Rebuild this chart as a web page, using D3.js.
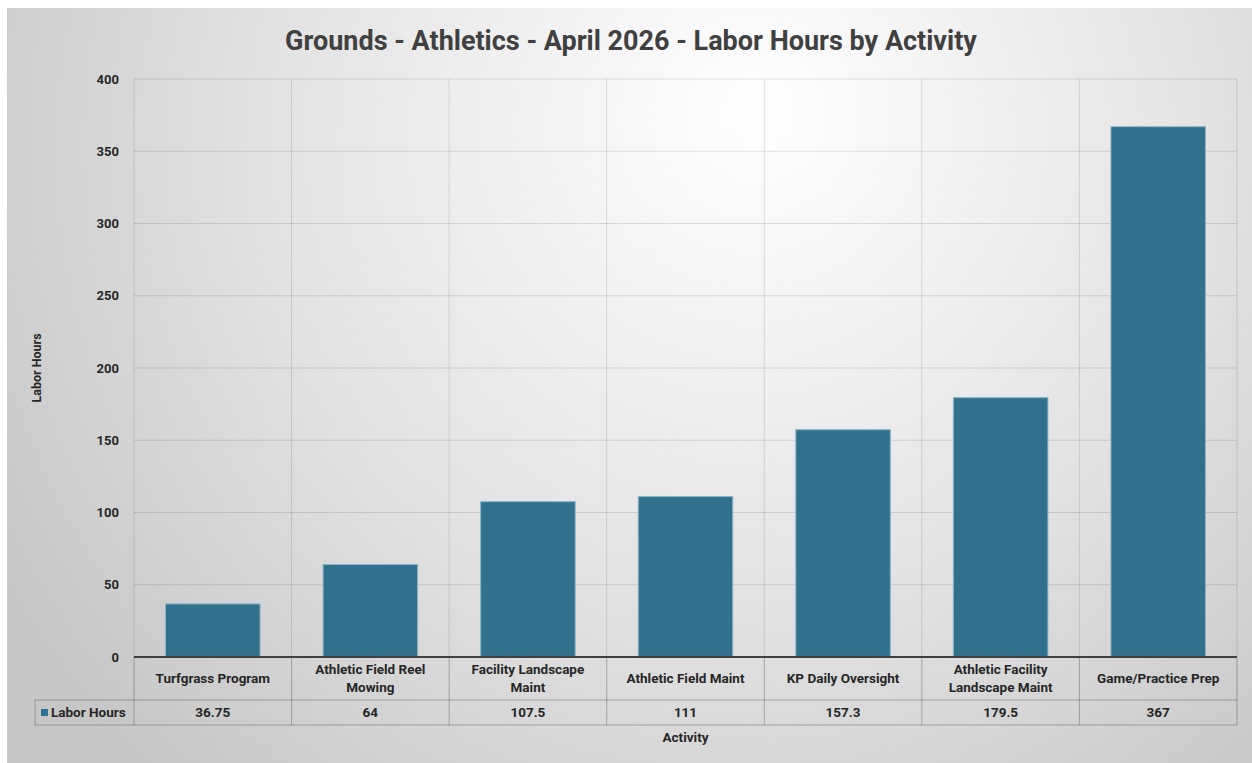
<!DOCTYPE html>
<html>
<head>
<meta charset="utf-8">
<script src="https://cdn.jsdelivr.net/npm/d3@7/dist/d3.min.js"></script>
<style>
  html, body { margin: 0; padding: 0; background: #ffffff; }
  svg { display: block; }
  text { font-family: Roboto, "Noto Sans", sans-serif; }
</style>
</head>
<body>
<svg id="chart" width="1252" height="763"></svg>
<script>
// Labor hours per activity, April 2026
const categories = [
  ["Turfgrass Program"],
  ["Athletic Field Reel", "Mowing"],
  ["Facility Landscape", "Maint"],
  ["Athletic Field Maint"],
  ["KP Daily Oversight"],
  ["Athletic Facility", "Landscape Maint"],
  ["Game/Practice Prep"]
];
const laborHours = [36.75, 64, 107.5, 111, 157.3, 179.5, 367];
const valueLabels = ["36.75", "64", "107.5", "111", "157.3", "179.5", "367"];
const yTicks = [0, 50, 100, 150, 200, 250, 300, 350, 400];

const titleText = "Grounds - Athletics - April 2026 - Labor Hours by Activity";
const seriesName = "Labor Hours";
const xTitle = "Activity";
const yTitle = "Labor Hours";

(function draw() {
  const svg = d3.select("#chart");

  // Chart area background: soft radial sheen
  const defs = svg.append("defs");
  const grad = defs.append("radialGradient")
    .attr("id", "bgGrad")
    .attr("gradientUnits", "userSpaceOnUse")
    .attr("cx", 720).attr("cy", 160).attr("r", 840)
    .attr("fx", 760).attr("fy", 110);
  grad.append("stop").attr("offset", "0%").attr("stop-color", "#ffffff");
  grad.append("stop").attr("offset", "55%").attr("stop-color", "#e3e3e3");
  grad.append("stop").attr("offset", "100%").attr("stop-color", "#c6c6c6");

  svg.append("rect")
    .attr("x", 7).attr("y", 8)
    .attr("width", 1245).attr("height", 755)
    .attr("fill", "url(#bgGrad)");

  // Plot geometry
  const plotLeft = 134, plotRight = 1237, plotTop = 79, plotBottom = 657;
  const row1Bottom = 700, row2Bottom = 725, legendLeft = 35;
  const textColor = "#262626";

  const x = d3.scaleBand()
    .domain(d3.range(laborHours.length))
    .range([plotLeft, plotRight])
    .paddingInner(0)
    .paddingOuter(0);

  const y = d3.scaleLinear().domain([0, 400]).range([plotBottom, plotTop]);

  // Horizontal gridlines
  svg.append("g")
    .selectAll("line")
    .data(yTicks.filter(d => d > 0))
    .join("line")
    .attr("x1", plotLeft).attr("x2", plotRight)
    .attr("y1", d => y(d)).attr("y2", d => y(d))
    .attr("stroke", "#000").attr("stroke-opacity", 0.12).attr("stroke-width", 1);

  // Vertical category separators through plot
  const sepXs = d3.range(laborHours.length + 1).map(i => i < laborHours.length ? x(i) : plotRight);
  svg.append("g")
    .selectAll("line")
    .data(sepXs)
    .join("line")
    .attr("x1", d => d).attr("x2", d => d)
    .attr("y1", plotTop).attr("y2", plotBottom)
    .attr("stroke", "#000").attr("stroke-opacity", 0.12).attr("stroke-width", 1);

  // Y axis tick labels
  const yAxis = d3.axisLeft(y).tickValues(yTicks).tickSize(0).tickPadding(15);
  const yg = svg.append("g").attr("transform", `translate(${plotLeft},0)`).call(yAxis);
  yg.select(".domain").remove();
  yg.selectAll("text")
    .attr("font-size", 13).attr("font-weight", 700).attr("fill", textColor)
    .attr("font-family", "Roboto, sans-serif");

  // Bars
  const barW = x.bandwidth() * 0.6;
  svg.append("g")
    .selectAll("rect")
    .data(laborHours)
    .join("rect")
    .attr("x", (d, i) => x(i) + (x.bandwidth() - barW) / 2)
    .attr("y", d => y(d))
    .attr("width", barW)
    .attr("height", d => y(0) - y(d))
    .attr("fill", "#32718d")
    .attr("stroke", "#8ab5c9")
    .attr("stroke-width", 1);

  // Data table lines
  const tbl = svg.append("g").attr("stroke", "#000").attr("stroke-opacity", 0.25).attr("stroke-width", 1);
  sepXs.forEach(xx => {
    tbl.append("line").attr("x1", xx).attr("x2", xx).attr("y1", plotBottom).attr("y2", row2Bottom);
  });
  tbl.append("line").attr("x1", legendLeft).attr("x2", legendLeft).attr("y1", row1Bottom).attr("y2", row2Bottom);
  tbl.append("line").attr("x1", legendLeft).attr("x2", plotRight).attr("y1", row1Bottom).attr("y2", row1Bottom);
  tbl.append("line").attr("x1", legendLeft).attr("x2", plotRight).attr("y1", row2Bottom).attr("y2", row2Bottom);

  // Zero baseline
  svg.append("line")
    .attr("x1", plotLeft).attr("x2", plotRight)
    .attr("y1", y(0)).attr("y2", y(0))
    .attr("stroke", "#404040").attr("stroke-width", 2);

  // Category labels (table row 1)
  const catG = svg.append("g");
  categories.forEach((lines, i) => {
    const cx = x(i) + x.bandwidth() / 2;
    const midY = (plotBottom + row1Bottom) / 2;
    const lh = 18.5;
    const t = catG.append("text")
      .attr("text-anchor", "middle")
      .attr("font-size", 13.5).attr("font-weight", 700).attr("fill", textColor);
    lines.forEach((ln, j) => {
      t.append("tspan")
        .attr("x", cx)
        .attr("y", midY + (j - (lines.length - 1) / 2) * lh)
        .attr("dy", "0.35em")
        .text(ln);
    });
  });

  // Values (table row 2)
  svg.append("g")
    .selectAll("text")
    .data(valueLabels)
    .join("text")
    .attr("x", (d, i) => x(i) + x.bandwidth() / 2)
    .attr("y", (row1Bottom + row2Bottom) / 2)
    .attr("dy", "0.35em")
    .attr("text-anchor", "middle")
    .attr("font-size", 13.5).attr("font-weight", 700).attr("fill", textColor)
    .text(d => d);

  // Legend key in table
  svg.append("rect")
    .attr("x", 41).attr("y", 709).attr("width", 7).attr("height", 7)
    .attr("fill", "#32718d");
  svg.append("text")
    .attr("x", 51).attr("y", (row1Bottom + row2Bottom) / 2)
    .attr("dy", "0.35em")
    .attr("font-size", 13.5).attr("font-weight", 700).attr("fill", textColor)
    .text(seriesName);

  // Axis titles
  svg.append("text")
    .attr("x", (plotLeft + plotRight) / 2).attr("y", 737)
    .attr("dy", "0.35em")
    .attr("text-anchor", "middle")
    .attr("font-size", 13.5).attr("font-weight", 700).attr("fill", textColor)
    .text(xTitle);

  svg.append("text")
    .attr("transform", `translate(37,${(plotTop + plotBottom) / 2}) rotate(-90)`)
    .attr("dy", "0.35em")
    .attr("text-anchor", "middle")
    .attr("font-size", 12.5).attr("font-weight", 700).attr("fill", textColor)
    .text(yTitle);

  // Chart title
  svg.append("text")
    .attr("x", 631).attr("y", 41)
    .attr("dy", "0.35em")
    .attr("text-anchor", "middle")
    .attr("font-size", 27).attr("font-weight", 700).attr("fill", "#404040")
    .text(titleText);
})();
</script>
</body>
</html>
